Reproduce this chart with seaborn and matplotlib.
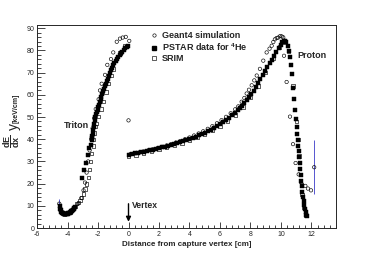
import numpy as np
import pandas as pd
import matplotlib
matplotlib.use("Agg")
import matplotlib.pyplot as plt
from matplotlib.lines import Line2D
from matplotlib.ticker import MultipleLocator
import seaborn as sns

# Geant4 simulation (open circles)
g4_x = [-4.54, -4.45, -4.3, -4.1, -3.9, -3.7, -3.5, -3.3, -3.1, -2.95, -2.85, -2.75,
        -2.65, -2.55, -2.45, -2.35, -2.25, -2.15, -1.96, -1.87, -1.76, -1.54, -1.39,
        -1.15, -1.0, -0.77, -0.56, -0.38, -0.18, 0.05, 0.0,
        0.1, 0.4, 0.7, 1.0, 1.3, 1.6, 1.9, 2.2, 2.5, 2.8, 3.1, 3.4, 3.7, 4.0, 4.3,
        4.6, 4.9, 5.2, 5.5, 5.8, 6.1, 6.4, 6.7, 7.0, 7.2, 7.42, 7.6, 7.75, 7.9, 8.08,
        8.25, 8.41, 8.62, 8.84, 9.06, 9.25, 9.39, 9.5, 9.6, 9.72, 9.82, 9.95, 10.05,
        10.15, 10.2, 10.37, 10.59, 10.79, 10.96, 11.16, 11.38, 11.6, 11.77, 11.97, 12.18]
g4_y = [11.0, 8.0, 7.0, 6.5, 7.0, 8.2, 9.5, 11.0, 13.5, 17.0, 20.5, 25.0,
        30.0, 35.0, 40.0, 45.0, 49.5, 53.6, 58.0, 62.0, 65.0, 69.0, 73.5,
        76.1, 79.1, 83.9, 85.3, 85.8, 86.1, 84.3, 48.5,
        33.2, 33.6, 34.0, 34.5, 35.0, 35.5, 36.0, 36.6, 37.2, 37.8, 38.5, 39.2, 40.0,
        40.8, 41.7, 42.6, 43.6, 44.7, 45.9, 47.2, 48.6, 50.1, 51.7, 53.5, 54.8, 56.9,
        58.6, 60.6, 62.3, 64.3, 66.5, 68.7, 71.7, 75.4, 79.1, 80.8, 82.1, 83.8, 85.0,
        85.6, 85.8, 86.5, 86.3, 85.9, 77.6, 65.8, 50.2, 37.8, 29.3, 24.2, 19.7, 19.0,
        17.8, 17.0, 27.4]

# error bars drawn on two Geant4 points
err_x = [-4.54, 12.18]
err_lo = [10.0, 15.5]
err_hi = [13.0, 39.5]

# PSTAR data for 4He (filled squares)
pstar_x = [-4.52, -4.48, -4.44, -4.4, -4.35, -4.3, -4.25, -4.2, -4.15, -4.1, -4.05,
           -4.0, -3.95, -3.9, -3.85, -3.8, -3.75, -3.7, -3.65, -3.6, -3.55, -3.5,
           -3.03, -2.9, -2.79, -2.64, -2.57, -2.48,
           -2.42, -2.39, -2.37, -2.34, -2.31, -2.28, -2.25, -2.21, -2.17, -2.13, -2.08,
           -2.03, -1.98, -1.93, -1.88, -1.83, -1.78, -1.72, -1.66, -1.6, -1.54, -1.48,
           -1.42, -1.35, -1.28, -1.21, -1.14, -1.07, -1.0, -0.92, -0.84, -0.76, -0.67,
           -0.58, -0.49, -0.4, -0.31, -0.22, -0.13, -0.04,
           0.0, 0.2, 0.4, 0.6, 0.8, 1.0, 1.2, 1.4, 1.6, 1.8, 2.0, 2.2, 2.4, 2.6, 2.8,
           3.0, 3.2, 3.4, 3.6, 3.8, 4.0, 4.2, 4.4, 4.6, 4.8, 5.0, 5.2, 5.4, 5.6, 5.8,
           6.0, 6.2, 6.4, 6.6, 6.8, 7.0, 7.15, 7.3, 7.45, 7.6, 7.75, 7.9, 8.05, 8.2,
           8.35, 8.5, 8.65, 8.8, 8.95, 9.1, 9.25, 9.4, 9.55, 9.7, 9.85, 10.0, 10.1,
           10.2, 10.28, 10.36, 10.44, 10.52, 10.6, 10.67, 10.74, 10.8, 10.86, 10.92,
           10.97, 11.02, 11.06, 11.1, 11.13, 11.16, 11.19, 11.22, 11.25, 11.29, 11.33,
           11.37, 11.41, 11.45, 11.49, 11.53, 11.57, 11.61, 11.65, 11.68]
pstar_y = [9.8, 8.8, 8.0, 7.4, 7.0, 6.7, 6.5, 6.3, 6.2, 6.2, 6.3,
           6.4, 6.6, 6.8, 7.0, 7.3, 7.6, 7.9, 8.3, 8.7, 9.1, 9.6,
           22.5, 26.1, 29.5, 32.9, 36.1, 37.6,
           39.5, 40.5, 41.5, 42.5, 44.0, 45.5, 47.0, 48.5, 50.0, 51.2, 52.3,
           53.3, 54.4, 55.6, 56.8, 58.0, 59.2, 60.4, 61.6, 62.8, 64.0, 65.1,
           66.2, 67.3, 68.5, 69.8, 71.0, 72.2, 73.3, 74.4, 75.4, 76.3, 77.2,
           78.0, 78.8, 79.5, 80.2, 80.9, 81.6, 82.2,
           33.0, 33.3, 33.6, 33.8, 34.1, 34.4, 34.7, 35.0, 35.3, 35.7, 36.0, 36.4, 36.7,
           37.1, 37.5, 37.9, 38.3, 38.7, 39.2, 39.6, 40.1, 40.6, 41.1, 41.7, 42.3, 42.9,
           43.6, 44.3, 45.0, 45.8, 46.7, 47.6, 48.5, 49.5, 50.7, 52.0, 53.0, 54.1, 55.1,
           56.2, 57.5, 58.9, 60.3, 61.9, 63.6, 65.3, 67.1, 68.9, 70.8, 72.5, 74.2, 75.9,
           77.6, 79.3, 81.0, 82.6, 83.6, 84.3, 84.4, 83.6, 82.0, 79.8, 77.0, 73.5, 69.5,
           63.0, 58.0, 53.0, 49.0, 45.5, 42.5, 39.5, 37.0, 34.5, 32.0, 29.5, 26.8, 24.0,
           21.3, 18.8, 16.3, 14.0, 12.0, 10.2, 8.6, 7.2, 6.0, 5.5]

# SRIM (open squares)
srim_x = [-4.3, -4.2, -4.05, -3.95, -3.84, -3.73, -3.62, -3.51, -3.4, -3.29, -3.18,
          -3.07, -2.96, -2.85, -2.74, -2.64, -2.57, -2.48, -2.41, -2.31, -2.31, -2.26,
          -2.2, -2.13, -1.98, -1.8, -1.65, -1.47, -1.32, -1.15, -1.0, -0.84, -0.56,
          -0.23,
          0.0, 0.5, 1.0, 1.5, 2.0, 2.5, 3.0, 3.5, 4.0, 4.5, 5.0, 5.5, 6.0, 6.5, 7.0,
          7.5, 8.0, 8.5, 9.0, 9.5, 9.9, 10.2, 10.5, 10.8, 11.0, 11.11, 11.18, 11.27,
          11.38, 11.49, 11.6]
srim_y = [6.5, 6.2, 6.5, 6.9, 7.3, 8.0, 8.8, 9.8, 11.0, 11.6, 12.4,
          13.9, 15.4, 17.6, 19.9, 22.8, 26.5, 29.9, 33.5, 36.9, 39.9, 42.8,
          45.8, 47.2, 50.2, 53.6, 56.9, 61.3, 65.1, 68.7, 71.7, 75.4, 78.8,
          82.1,
          32.5, 33.0, 33.8, 34.6, 35.4, 36.3, 37.3, 38.4, 39.6, 40.9, 42.4, 44.1,
          46.0, 48.2, 51.0, 54.5, 58.8, 64.0, 70.0, 76.5, 81.5, 83.8, 79.5, 64.0,
          48.0, 40.0, 32.4, 21.2, 15.2, 9.3, 5.8]

g4 = pd.DataFrame({"x": g4_x, "y": g4_y})
pstar = pd.DataFrame({"x": pstar_x, "y": pstar_y})
srim = pd.DataFrame({"x": srim_x, "y": srim_y})

sns.set_style("ticks")
plt.rcParams["font.family"] = ["Liberation Sans", "DejaVu Sans"]
plt.rcParams["axes.unicode_minus"] = False
plt.rcParams["mathtext.fontset"] = "custom"
plt.rcParams["mathtext.rm"] = "Liberation Sans"
plt.rcParams["mathtext.bf"] = "Liberation Sans:bold"

fig = plt.figure(figsize=(3.74, 2.54), dpi=100)
ax = fig.add_axes([0.099, 0.102, 0.799, 0.8])

sns.scatterplot(data=srim, x="x", y="y", ax=ax, marker="s", s=6,
                facecolor="none", edgecolor="black", linewidth=0.45, zorder=2)
sns.scatterplot(data=pstar, x="x", y="y", ax=ax, marker="s", s=8,
                color="black", edgecolor="black", linewidth=0.3, zorder=3)
sns.scatterplot(data=g4, x="x", y="y", ax=ax, marker="o", s=6,
                facecolor="none", edgecolor="black", linewidth=0.45, zorder=4)
ax.vlines(err_x, err_lo, err_hi, color="#5555d0", lw=0.7, zorder=1)

ax.set_xlim(-6, 13.6)
ax.set_ylim(0, 91.5)
ax.xaxis.set_major_locator(MultipleLocator(2))
ax.xaxis.set_minor_locator(MultipleLocator(0.4))
ax.yaxis.set_major_locator(MultipleLocator(10))
ax.yaxis.set_minor_locator(MultipleLocator(2))
ax.tick_params(axis="both", which="both", direction="in", labelsize=5,
               width=0.6, pad=2, top=False, right=False)
ax.tick_params(axis="y", which="major", length=6)
ax.tick_params(axis="y", which="minor", length=3)
ax.tick_params(axis="x", which="major", length=4)
ax.tick_params(axis="x", which="minor", length=2)
for sp in ax.spines.values():
    sp.set_linewidth(0.7)

ax.set_xlabel("Distance from capture vertex [cm]", fontsize=5.8, fontweight="bold", labelpad=2)
# y label: stacked fraction plus unit, as two pieces of text
fig.text(0.03, 0.443, r"$\dfrac{\mathbf{dE}}{\mathbf{dx}}$", fontsize=6.5,
         rotation=90, ha="center", va="center")
fig.text(0.042, 0.572, "[keV/cm]", fontsize=5.1, fontweight="bold",
         rotation=90, ha="center", va="center")

ax.text(-2.62, 46.3, "Triton", fontsize=6.5, fontweight="bold", ha="right", va="center")
ax.text(11.05, 77.8, "Proton", fontsize=6.5, fontweight="bold", ha="left", va="center")
ax.text(0.22, 10.2, "Vertex", fontsize=6.2, fontweight="bold", ha="left", va="center")
ax.annotate("", xy=(0, 1.6), xytext=(0, 12.2),
            arrowprops=dict(arrowstyle="-|>", color="black", lw=1.0, mutation_scale=7))

handles = [
    Line2D([], [], ls="", marker="o", ms=2.4, mfc="none", mec="black", mew=0.45),
    Line2D([], [], ls="", marker="s", ms=2.2, mfc="black", mec="black"),
    Line2D([], [], ls="", marker="s", ms=2.4, mfc="none", mec="black", mew=0.45),
]
labels = ["Geant4 simulation", r"PSTAR data for $^{\mathbf{4}}$He", "SRIM"]
ax.legend(handles, labels, loc="upper left", bbox_to_anchor=(0.39, 0.895),
          bbox_transform=fig.transFigure, frameon=False,
          prop={"weight": "bold", "size": 6.5}, handlelength=0.8,
          handletextpad=0.5, labelspacing=0.12, borderpad=0)

fig.savefig("out.png", dpi=100)
